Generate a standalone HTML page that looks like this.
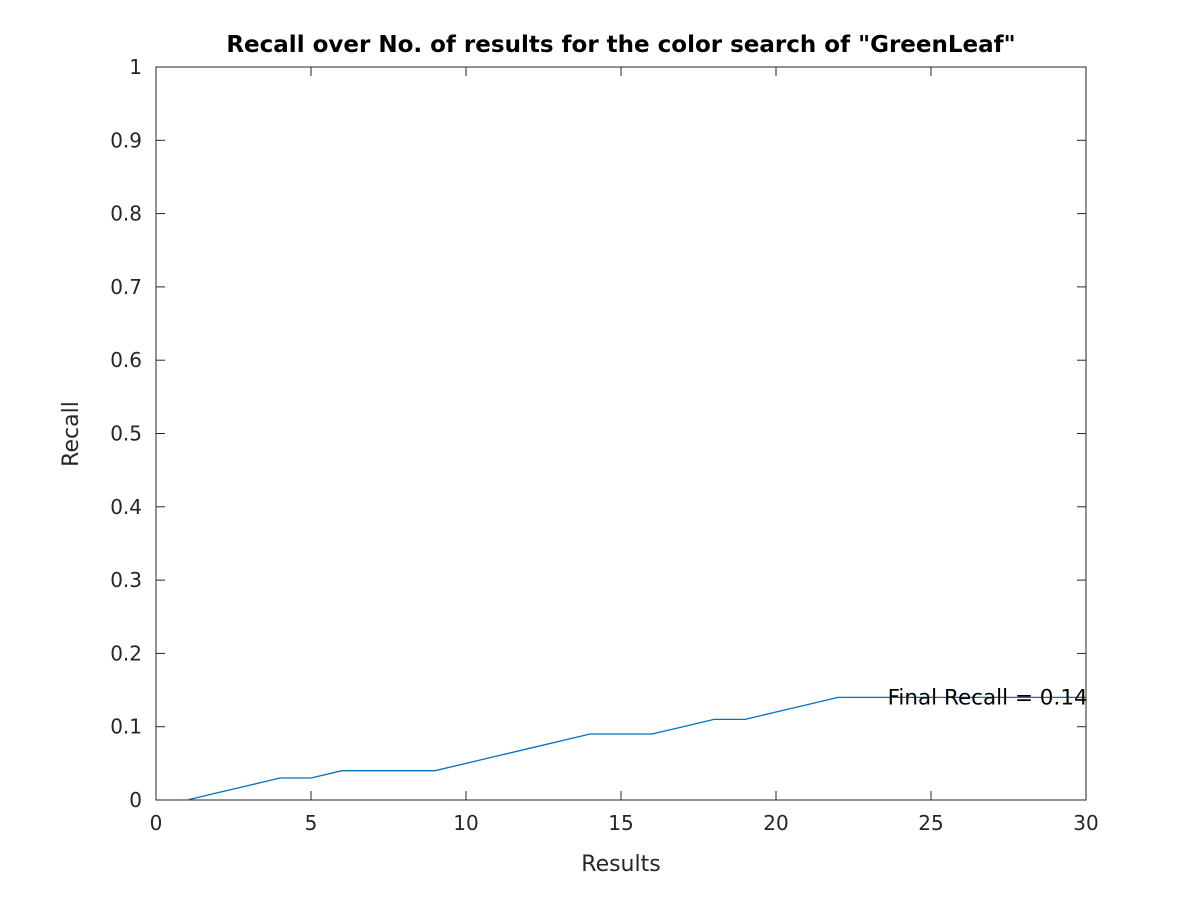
<!DOCTYPE html>
<html><head><meta charset="utf-8"><style>
body{margin:0;background:#fff;}
svg{display:block;font-family:"DejaVu Sans","Liberation Sans",sans-serif;}
</style></head><body>
<svg id="chart" width="1200" height="900">
<rect width="1200" height="900" fill="#fff"/>
</svg>
<script>
const xs=[1,2,3,4,5,6,7,8,9,10,11,12,13,14,15,16,17,18,19,20,21,22,23,24,25,26,27,28,29,30];
const recall=[0,0.01,0.02,0.03,0.03,0.04,0.04,0.04,0.04,0.05,0.06,0.07,0.08,0.09,0.09,0.09,0.10,0.11,0.11,0.12,0.13,0.14,0.14,0.14,0.14,0.14,0.14,0.14,0.14,0.14];
const xTicks=[0,5,10,15,20,25,30];
const yTicks=[0,0.1,0.2,0.3,0.4,0.5,0.6,0.7,0.8,0.9,1];
const annotation="Final Recall = 0.14";
const annX=23.6, annY=0.14;

const L=156,R=1086,T=67,B=800;
const sx=v=>L+(v-0)/(30-0)*(R-L);
const sy=v=>B-(v-0)/(1-0)*(B-T);
const svg=document.getElementById('chart');
const NS='http://www.w3.org/2000/svg';
function mk(tag,attrs,txt){const e=document.createElementNS(NS,tag);for(const k in attrs)e.setAttribute(k,attrs[k]);if(txt!==undefined)e.textContent=txt;svg.appendChild(e);return e;}

let e=mk('rect',{x:L,y:T,width:R-L,height:B-T,fill:'#fff',stroke:'#262626','stroke-width':1});



xTicks.forEach(t=>{const x=sx(t);
 let a=mk('line',{x1:x,x2:x,y1:B,y2:B-9,stroke:'#262626'});
 
 
 let b=mk('line',{x1:x,x2:x,y1:T,y2:T+9,stroke:'#262626'});
 
 
 let l=mk('text',{x:x,y:B+30,'text-anchor':'middle','font-size':20,fill:'#262626'},String(t));
 
 
});
yTicks.forEach(t=>{const y=sy(t);
 let a=mk('line',{x1:L,x2:L+9,y1:y,y2:y,stroke:'#262626'});
 
 
 let b=mk('line',{x1:R,x2:R-9,y1:y,y2:y,stroke:'#262626'});
 
 
 let l=mk('text',{x:L-14,y:y+7,'text-anchor':'end','font-size':20,fill:'#262626'},String(t));
 
 
});

let p=mk('polyline',{points:xs.map((x,i)=>sx(x)+','+sy(recall[i])).join(' '),fill:'none',stroke:'#0072BD','stroke-width':1.3});



let an=mk('text',{x:sx(annX),y:sy(annY)+7,'font-size':21.5,fill:'#000'},annotation);



let ti=mk('text',{x:(L+R)/2,y:52,'text-anchor':'middle','font-size':23,'font-weight':'bold',fill:'#000'},'Recall over No. of results for the color search of "GreenLeaf"');



let xl=mk('text',{x:(L+R)/2,y:871,'text-anchor':'middle','font-size':22,fill:'#262626'},'Results');



let yl=mk('text',{x:0,y:0,'text-anchor':'middle','font-size':22,fill:'#262626',transform:'translate(78,434) rotate(-90)'},'Recall');


</script>
</body></html>
